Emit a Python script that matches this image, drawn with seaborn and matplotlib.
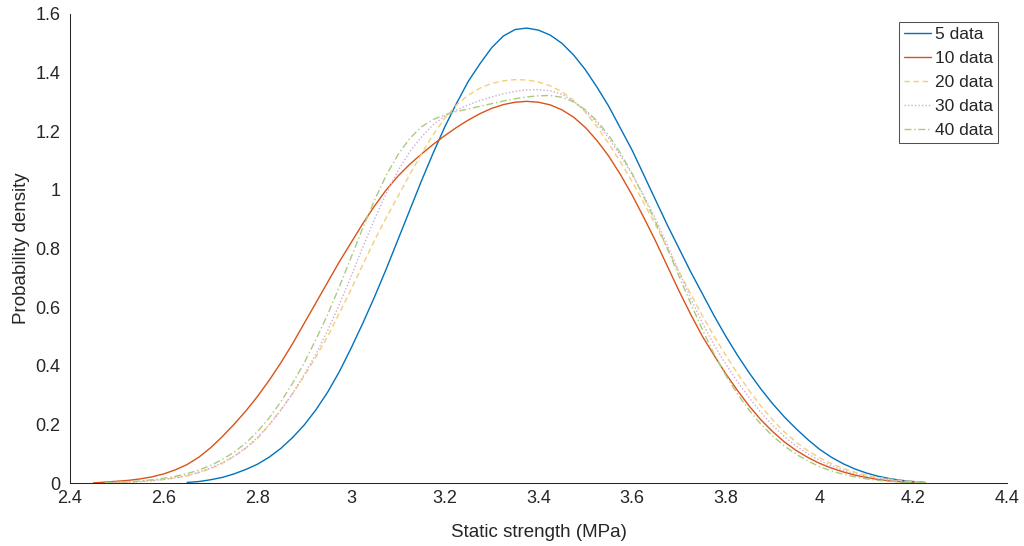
import numpy as np
import pandas as pd
import matplotlib
matplotlib.use("Agg")
import matplotlib.pyplot as plt
import seaborn as sns

nan = np.nan

# Static strength grid (MPa)
strength = [2.450, 2.475, 2.500, 2.525, 2.550, 2.575, 2.600, 2.625, 2.650, 2.675,
            2.700, 2.725, 2.750, 2.775, 2.800, 2.825, 2.850, 2.875, 2.900, 2.925,
            2.950, 2.975, 3.000, 3.025, 3.050, 3.075, 3.100, 3.125, 3.150, 3.175,
            3.200, 3.225, 3.250, 3.275, 3.300, 3.325, 3.350, 3.375, 3.400, 3.425,
            3.450, 3.475, 3.500, 3.525, 3.550, 3.575, 3.600, 3.625, 3.650, 3.675,
            3.700, 3.725, 3.750, 3.775, 3.800, 3.825, 3.850, 3.875, 3.900, 3.925,
            3.950, 3.975, 4.000, 4.025, 4.050, 4.075, 4.100, 4.125, 4.150, 4.175,
            4.200, 4.225, 4.250]

data_5 = [nan, nan, nan, nan, nan, nan, nan, nan, 0.002, 0.005,
          0.011, 0.019, 0.031, 0.046, 0.064, 0.088, 0.118, 0.155, 0.198, 0.25,
          0.31, 0.38, 0.46, 0.545, 0.635, 0.73, 0.83, 0.93, 1.03, 1.125,
          1.215, 1.295, 1.37, 1.43, 1.485, 1.525, 1.547, 1.552, 1.545, 1.528,
          1.50, 1.46, 1.41, 1.35, 1.285, 1.21, 1.135, 1.05, 0.965, 0.88,
          0.80, 0.72, 0.645, 0.57, 0.50, 0.435, 0.375, 0.32, 0.27, 0.225,
          0.185, 0.148, 0.115, 0.088, 0.066, 0.048, 0.034, 0.023, 0.015, 0.009,
          0.005, 0.002, nan]

data_10 = [0.0005, 0.003, 0.006, 0.009, 0.014, 0.021, 0.031, 0.045, 0.063, 0.088,
           0.12, 0.158, 0.20, 0.245, 0.295, 0.35, 0.41, 0.475, 0.545, 0.615,
           0.685, 0.755, 0.82, 0.885, 0.945, 1.0, 1.047, 1.087, 1.122, 1.155,
           1.185, 1.213, 1.238, 1.26, 1.278, 1.291, 1.299, 1.302, 1.299, 1.29,
           1.273, 1.248, 1.213, 1.168, 1.115, 1.052, 0.982, 0.905, 0.825, 0.74,
           0.655, 0.575, 0.50, 0.435, 0.372, 0.315, 0.262, 0.215, 0.175, 0.14,
           0.111, 0.087, 0.067, 0.051, 0.038, 0.027, 0.019, 0.012, 0.007, 0.004,
           0.002, nan, nan]

data_20 = [nan, 0.0005, 0.002, 0.003, 0.005, 0.008, 0.012, 0.017, 0.024, 0.035,
           0.049, 0.067, 0.09, 0.118, 0.152, 0.198, 0.25, 0.305, 0.365, 0.43,
           0.50, 0.58, 0.66, 0.745, 0.828, 0.905, 0.978, 1.052, 1.122, 1.188,
           1.245, 1.29, 1.323, 1.347, 1.363, 1.372, 1.376, 1.375, 1.368, 1.355,
           1.335, 1.305, 1.265, 1.215, 1.158, 1.095, 1.028, 0.955, 0.88, 0.80,
           0.72, 0.645, 0.57, 0.50, 0.435, 0.373, 0.315, 0.262, 0.215, 0.174,
           0.139, 0.11, 0.086, 0.066, 0.05, 0.037, 0.027, 0.019, 0.013, 0.008,
           0.005, 0.002, nan]

data_30 = [nan, 0.0005, 0.002, 0.003, 0.005, 0.008, 0.012, 0.018, 0.026, 0.037,
           0.051, 0.069, 0.092, 0.12, 0.155, 0.198, 0.248, 0.305, 0.37, 0.44,
           0.52, 0.61, 0.705, 0.805, 0.90, 0.988, 1.065, 1.13, 1.18, 1.222,
           1.252, 1.272, 1.29, 1.305, 1.317, 1.328, 1.336, 1.341, 1.342, 1.338,
           1.326, 1.303, 1.27, 1.228, 1.176, 1.117, 1.052, 0.98, 0.90, 0.812,
           0.72, 0.63, 0.545, 0.47, 0.405, 0.345, 0.29, 0.24, 0.196, 0.158,
           0.126, 0.099, 0.077, 0.059, 0.044, 0.032, 0.023, 0.016, 0.011, 0.007,
           0.004, 0.002, nan]

data_40 = [nan, 0.001, 0.003, 0.005, 0.007, 0.011, 0.016, 0.023, 0.032, 0.044,
           0.06, 0.08, 0.105, 0.136, 0.175, 0.222, 0.277, 0.34, 0.41, 0.49,
           0.575, 0.67, 0.77, 0.87, 0.965, 1.05, 1.12, 1.175, 1.215, 1.24,
           1.256, 1.267, 1.276, 1.285, 1.294, 1.303, 1.311, 1.317, 1.321, 1.322,
           1.316, 1.30, 1.273, 1.235, 1.186, 1.125, 1.055, 0.975, 0.89, 0.80,
           0.705, 0.612, 0.522, 0.44, 0.367, 0.303, 0.248, 0.20, 0.16, 0.126,
           0.098, 0.075, 0.056, 0.041, 0.03, 0.021, 0.014, 0.009, 0.006, 0.003,
           0.002, 0.001, nan]

series_names = ["5 data", "10 data", "20 data", "30 data", "40 data"]
series_values = [data_5, data_10, data_20, data_30, data_40]

x_ticks = [2.4, 2.6, 2.8, 3.0, 3.2, 3.4, 3.6, 3.8, 4.0, 4.2, 4.4]
x_tick_labels = ["2.4", "2.6", "2.8", "3", "3.2", "3.4", "3.6", "3.8", "4", "4.2", "4.4"]
y_ticks = [0, 0.2, 0.4, 0.6, 0.8, 1.0, 1.2, 1.4, 1.6]
y_tick_labels = ["0", "0.2", "0.4", "0.6", "0.8", "1", "1.2", "1.4", "1.6"]

rows = []
for name, vals in zip(series_names, series_values):
    for xv, yv in zip(strength, vals):
        rows.append({"strength": xv, "density": yv, "series": name})
df = pd.DataFrame(rows)

sns.set_theme(style="white")
plt.rcParams["font.family"] = ["Liberation Sans", "DejaVu Sans"]

palette = {"5 data": "#0072BD", "10 data": "#D95319", "20 data": "#F4CF78",
           "30 data": "#CFAAD6", "40 data": "#A9CB80"}
dashes = {"5 data": "", "10 data": "", "20 data": (4, 2.5),
          "30 data": (1, 1.5), "40 data": (5, 2, 1, 2)}

fig = plt.figure(figsize=(10.24, 5.46), dpi=100)
ax = fig.add_axes([70/1024, 1 - 483/546, (1007 - 70)/1024, (483 - 14)/546])

sns.lineplot(data=df, x="strength", y="density", hue="series", style="series",
             hue_order=series_names, style_order=series_names,
             palette=palette, dashes=dashes, estimator=None, sort=True,
             linewidth=1.0, ax=ax)

ax.set_xlim(2.4, 4.4)
ax.set_ylim(0, 1.6)
ax.set_xticks(x_ticks)
ax.set_xticklabels(x_tick_labels)
ax.set_yticks(y_ticks)
ax.set_yticklabels(y_tick_labels)
ax.tick_params(axis="both", direction="in", length=6.5, width=0.75,
               colors="#262626", labelsize=13)
ax.tick_params(axis="x", pad=5)
ax.tick_params(axis="y", pad=7)
for side in ["top", "right"]:
    ax.spines[side].set_visible(False)
for side in ["left", "bottom"]:
    ax.spines[side].set_color("#262626")
    ax.spines[side].set_linewidth(0.75)

ax.set_xlabel("Static strength (MPa)", fontsize=13.5, color="#262626", labelpad=12)
ax.set_ylabel("Probability density", fontsize=13.5, color="#262626", labelpad=4)

old = ax.get_legend()
handles = old.legend_handles
labels = [t.get_text() for t in old.get_texts()]
old.remove()
leg = ax.legend(handles, labels, loc="upper right",
                bbox_to_anchor=(1 - 9/937, 1 - 8/469), borderaxespad=0,
                fontsize=12.5, frameon=True, fancybox=False, handlelength=1.55,
                handletextpad=0.2, labelspacing=0.5, borderpad=0.3)
leg.get_frame().set_edgecolor("#262626")
leg.get_frame().set_linewidth(0.75)
for line in leg.get_lines():
    line.set_linewidth(1.0)

fig.savefig("out.png", dpi=100)
